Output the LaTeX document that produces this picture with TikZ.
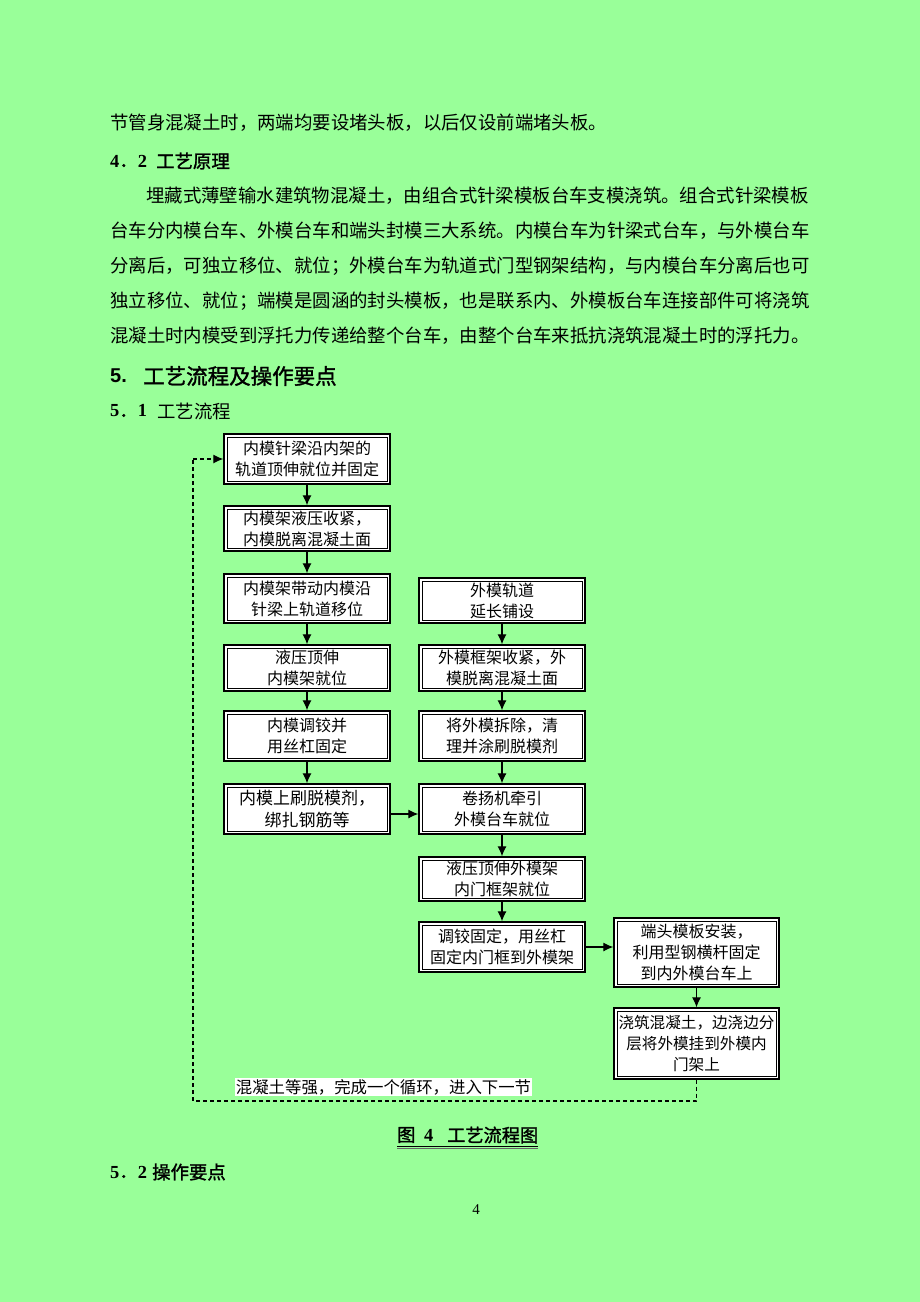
\documentclass[tikz,border=0pt]{standalone}
\usepackage{fontspec}
\usetikzlibrary{arrows.meta}
\newfontfamily\cjk{Noto Sans CJK SC}
\newfontfamily\cjkb[FakeBold=1.5]{Noto Sans CJK SC}
\newfontfamily\serifr{Liberation Serif}
\newfontfamily\serifb{Liberation Serif Bold}
\newfontfamily\sansb{Liberation Sans Bold}
\definecolor{pagegreen}{RGB}{153,255,153}
\tikzset{
  body/.style={anchor=west,inner sep=0pt,font=\cjk\fontsize{18.4}{20}\selectfont},
  stepbox/.style={draw=black,line width=1.3pt,fill=white,
    inner sep=1pt,align=center,font=\cjk\fontsize{16}{21}\selectfont,text=black,
    path picture={\draw[line width=0.9pt,black]
      ([shift={(3pt,-3pt)}]path picture bounding box.north west) rectangle
      ([shift={(-3pt,3pt)}]path picture bounding box.south east);}},
  arr/.style={line width=1.2pt,-{Latex[length=10pt,width=9pt]}},
  loopline/.style={line width=1.2pt,dash pattern=on 4pt off 3pt},
  looparr/.style={loopline,-{Latex[length=10pt,width=9pt]}}
}
\begin{document}
\begin{tikzpicture}[x=1pt,y=-1pt]
\fill[pagegreen] (0,0) rectangle (920,1302);
\useasboundingbox (0,0) rectangle (920,1302);

% body text
\node[body] (t1) at (110,123) {节管身混凝土时，两端均要设堵头板，以后仅设前端堵头板。};
\node[body,font=\serifb\fontsize{18.4}{20}\selectfont] (h42a) at (110,161) {4{\cjkb ．}2};
\node[body,font=\cjkb\fontsize{18.4}{20}\selectfont] (h42b) at (156,161) {工艺原理};
\node[body] (p1) at (146,196) {埋藏式薄壁输水建筑物混凝土，由组合式针梁模板台车支模浇筑。组合式针梁模板};
\node[body] (p2) at (110,231) {台车分内模台车、外模台车和端头封模三大系统。内模台车为针梁式台车，与外模台车};
\node[body] (p3) at (110,266) {分离后，可独立移位、就位；外模台车为轨道式门型钢架结构，与内模台车分离后也可};
\node[body] (p4) at (110,301) {独立移位、就位；端模是圆涵的封头模板，也是联系内、外模板台车连接部件可将浇筑};
\node[body] (p5) at (110,336) {混凝土时内模受到浮托力传递给整个台车，由整个台车来抵抗浇筑混凝土时的浮托力。};
\node[body,font=\sansb\fontsize{20}{22}\selectfont] (h5a) at (110,376) {5.};
\node[body,font=\cjkb\fontsize{21.5}{22}\selectfont] (h5b) at (143,376) {工艺流程及操作要点};
\node[body,font=\serifb\fontsize{18.4}{20}\selectfont] (h51a) at (110,411) {5{\cjkb ．}1};
\node[body] (h51b) at (157,411) {工艺流程};

% flow boxes
\node[stepbox,minimum width=166pt,minimum height=50pt] (L1) at (307,459) {内模针梁沿内架的\\轨道顶伸就位并固定};
\node[stepbox,minimum width=166pt,minimum height=45pt] (L2) at (307,528.5) {内模架液压收紧，\\内模脱离混凝土面};
\node[stepbox,minimum width=166pt,minimum height=49pt] (L3) at (307,598.5) {内模架带动内模沿\\针梁上轨道移位};
\node[stepbox,minimum width=166pt,minimum height=46pt] (L4) at (307,668) {液压顶伸\\内模架就位};
\node[stepbox,minimum width=166pt,minimum height=50pt] (L5) at (307,736) {内模调铰并\\用丝杠固定};
\node[stepbox,minimum width=166pt,minimum height=50pt,font=\cjk\fontsize{17}{22}\selectfont] (L6) at (307,809) {内模上刷脱模剂，\\绑扎钢筋等};

\node[stepbox,minimum width=166pt,minimum height=45pt] (R1) at (502,600.5) {外模轨道\\延长铺设};
\node[stepbox,minimum width=166pt,minimum height=46pt] (R2) at (502,668) {外模框架收紧，外\\模脱离混凝土面};
\node[stepbox,minimum width=166pt,minimum height=50pt] (R3) at (502,736) {将外模拆除，清\\理并涂刷脱模剂};
\node[stepbox,minimum width=166pt,minimum height=50pt] (R4) at (502,809) {卷扬机牵引\\外模台车就位};
\node[stepbox,minimum width=166pt,minimum height=44pt] (R5) at (502,879) {液压顶伸外模架\\内门框架就位};
\node[stepbox,minimum width=166pt,minimum height=50pt] (R6) at (502,947) {调铰固定，用丝杠\\固定内门框到外模架};

\node[stepbox,minimum width=165pt,minimum height=69pt] (E1) at (696.5,952.5) {端头模板安装，\\利用型钢横杆固定\\到内外模台车上};
\node[stepbox,minimum width=165pt,minimum height=71pt,inner sep=0pt,font=\cjk\fontsize{15.6}{21}\selectfont] (E2) at (696.5,1043.5) {浇筑混凝土，边浇边分\\层将外模挂到外模内\\门架上};

% connectors
\draw[arr] (L1.south) -- (L2.north);
\draw[arr] (L2.south) -- (L3.north);
\draw[arr] (L3.south) -- (L4.north);
\draw[arr] (L4.south) -- (L5.north);
\draw[arr] (L5.south) -- (L6.north);
\draw[arr] ([yshift=-5pt]L6.east) -- ([yshift=-5pt]L6.east -| R4.west);
\draw[arr] (R1.south) -- (R2.north);
\draw[arr] (R2.south) -- (R3.north);
\draw[arr] (R3.south) -- (R4.north);
\draw[arr] (R4.south) -- (R5.north);
\draw[arr] (R5.south) -- (R6.north);
\draw[arr] (R6.east) -- (R6.east -| E1.west);
\draw[arr] (E1.south) -- (E2.north);

% return loop
\coordinate (c1) at (696.5,1101);
\coordinate (c2) at (193,1101);
\coordinate (c3) at (193,459);
\draw[loopline] (E2.south) -- (c1) -- (c2) -- (c3);
\draw[looparr] (c3) -- (L1.west);
\node[fill=white,inner sep=1pt,font=\cjk\fontsize{16.4}{18}\selectfont,text=black] (lbl) at (383.5,1087) {混凝土等强，完成一个循环，进入下一节};

% caption
\node[body,font=\cjkb\fontsize{18.2}{20}\selectfont] (capa) at (397,1135) {图};
\node[body,font=\serifb\fontsize{18.4}{20}\selectfont] (capb) at (424,1135) {4};
\node[body,font=\cjkb\fontsize{18.2}{20}\selectfont] (capc) at (447,1135) {工艺流程图};
\draw[line width=0.8pt] (capa.west |- 0,1146.5) -- (capc.east |- 0,1146.5);
\draw[line width=0.8pt,black!60] (capa.west |- 0,1148.5) -- (capc.east |- 0,1148.5);

\node[body,font=\serifb\fontsize{18.4}{20}\selectfont] (h52a) at (110,1172) {5{\cjkb ．}2};
\node[body,font=\cjkb\fontsize{18.4}{20}\selectfont] (h52b) at (152,1172) {操作要点};
\node[inner sep=0pt,font=\serifr\fontsize{15}{16}\selectfont] (pg) at (476,1210) {4};
\end{tikzpicture}
\end{document}
